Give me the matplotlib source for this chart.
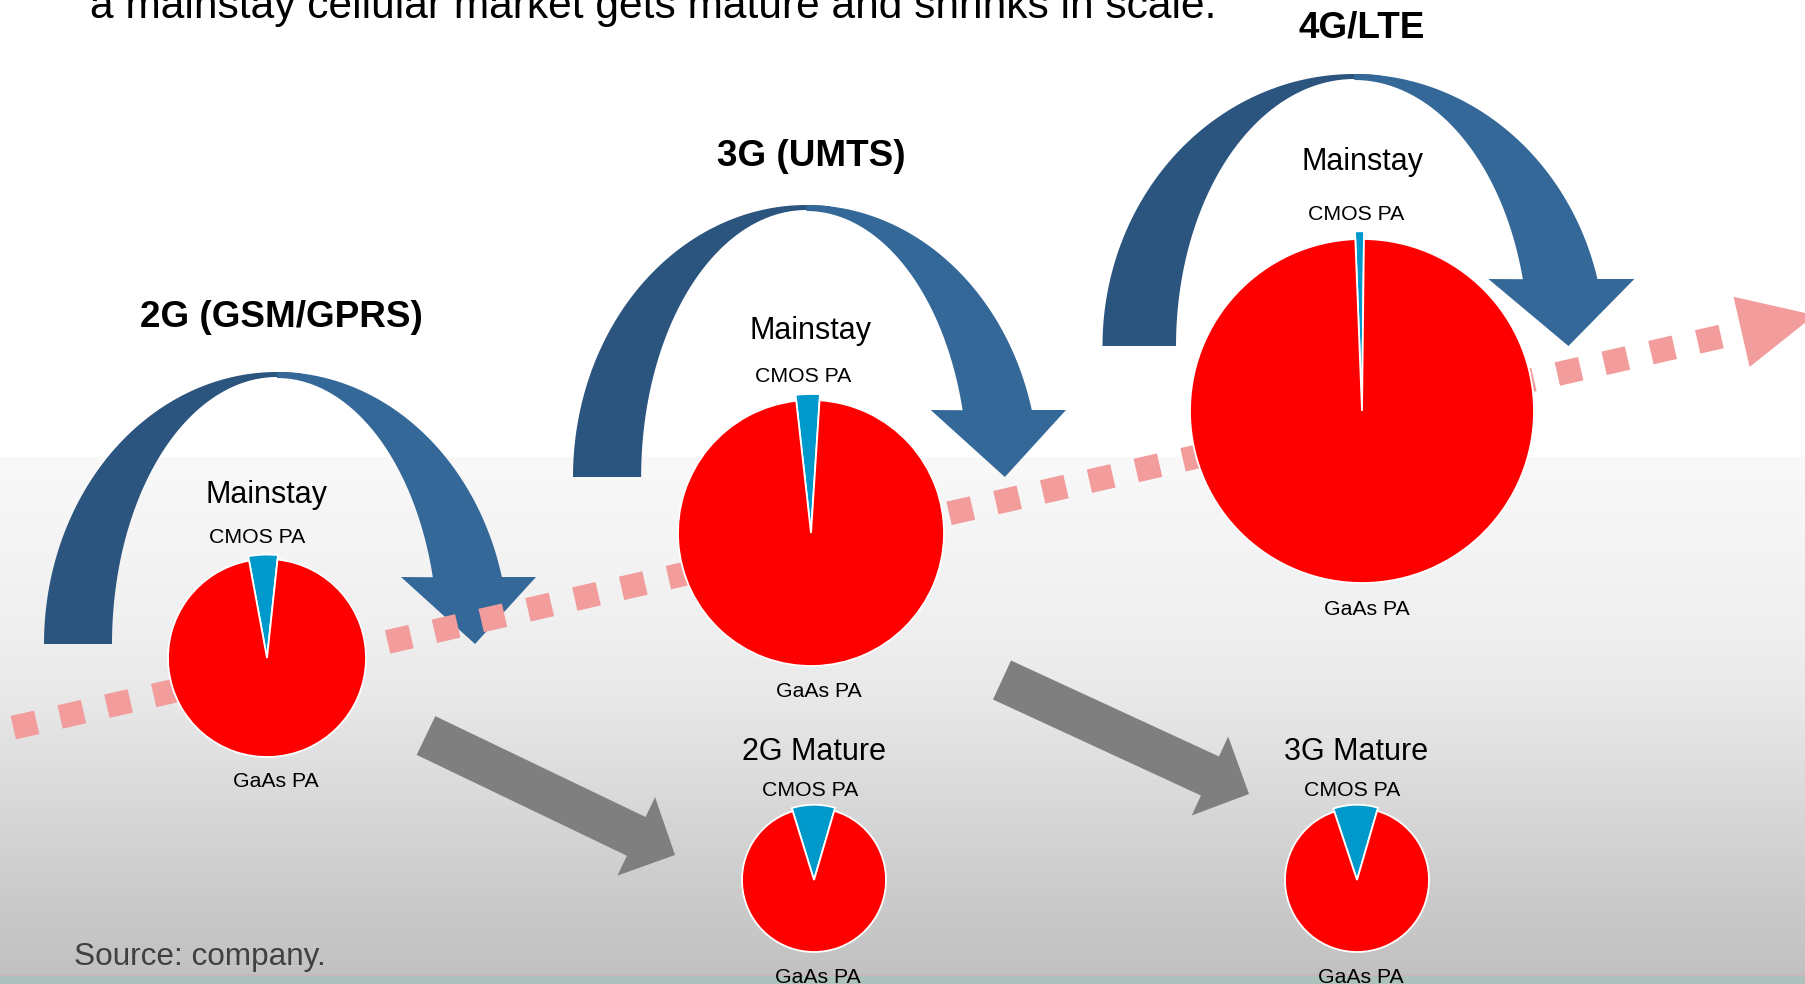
import numpy as np
import matplotlib
matplotlib.use("Agg")
import matplotlib.pyplot as plt
from matplotlib.patches import Polygon, Rectangle
from matplotlib.transforms import Affine2D

plt.rcParams['font.family'] = ['Liberation Sans', 'DejaVu Sans']

# ---------------- data ----------------
headline = "a mainstay cellular market gets mature and shrinks in scale."
generations = ["2G (GSM/GPRS)", "3G (UMTS)", "4G/LTE"]
segments = ["CMOS PA", "GaAs PA"]
pie_groups = ["Mainstay", "Mainstay", "Mainstay", "2G Mature", "3G Mature"]
cmos_share = [4.6, 2.8, 0.8, 9.3, 9.6]
gaas_share = [95.4, 97.2, 99.2, 90.7, 90.4]
source_note = "Source: company."

# ---------------- canvas ----------------
W, H = 1805, 984
fig = plt.figure(figsize=(W / 100, H / 100), dpi=100)
ax = fig.add_axes([0, 0, 1, 1])
ax.axis('off')

# background gradient
ys = np.arange(H)
vals = np.interp(ys, [0, 456, 457, 620, 700, 880, 975],
                 [255, 255, 249, 240, 232, 205, 193]) / 255.0
img = np.repeat(vals[:, None], 2, axis=1)
ax.imshow(np.dstack([img] * 3), extent=(0, W, H, 0), aspect='auto',
          zorder=0, interpolation='bilinear')
ax.add_patch(Rectangle((0, 973.5), W, 2.5, fc='#c9b5bd', ec='none', zorder=1))
ax.add_patch(Rectangle((0, 976), W, 9, fc='#adc2bc', ec='none', zorder=1))
ax.set_xlim(0, W)
ax.set_ylim(H, 0)

DARK = '#2b547e'
LIGHT = '#346899'


def curved_arrow(L, T, sx):
    B = T + 272

    def X(r):
        return L + r * sx

    th = np.linspace(np.pi, np.deg2rad(84), 80)
    outer = [(X(233 + 233 * np.cos(t)), B - 272 * np.sin(t)) for t in th]
    inner = [(X(233 + 165 * np.cos(t)), B - 267 * np.sin(t)) for t in th[::-1]]
    ax.add_patch(Polygon(outer + inner, closed=True, fc=DARK, ec='none', zorder=2))

    t_o = np.linspace(np.pi / 2, np.arcsin(67 / 272), 80)
    outer = [(X(233 + 232 * np.cos(t)), B - 272 * np.sin(t)) for t in t_o]
    head = [(X(492), T + 205), (X(431), B), (X(357), T + 205)]
    t_i = np.linspace(np.arcsin(67 / 267), np.pi / 2, 80)
    inner = [(X(233 + 161 * np.cos(t)), B - 266 * np.sin(t)) for t in t_i]
    ax.add_patch(Polygon(outer + head + inner, closed=True, fc=LIGHT, ec='none', zorder=2))


curved_arrow(44, 372, 1.0)
curved_arrow(573, 205, 1.002)
curved_arrow(1102.5, 74, 1.081)


def straight_arrow(tail, tip, shaft_w=43, head_w=87, head_l=43):
    tail = np.array(tail, float)
    tip = np.array(tip, float)
    d = tip - tail
    u = d / np.hypot(*d)
    n = np.array([-u[1], u[0]])
    hb = tip - u * head_l
    pts = [tail + n * shaft_w / 2, hb + n * shaft_w / 2, hb + n * head_w / 2, tip,
           hb - n * head_w / 2, hb - n * shaft_w / 2, tail - n * shaft_w / 2]
    ax.add_patch(Polygon(pts, closed=True, fc='#7f7f7f', ec='none', zorder=2))


straight_arrow((426, 735.5), (675, 855))
straight_arrow((1002, 680), (1249, 794))

# dotted red trend arrow
DOT = '#f29c9c'
p0 = np.array([25.0, 725.0])
ang = -12.9
u = np.array([np.cos(np.deg2rad(ang)), np.sin(np.deg2rad(ang))])
nrm = np.array([-u[1], u[0]])
for k in range(37):
    c = p0 + u * 48.0 * k
    rect = Rectangle((c[0] - 12, c[1] - 12), 24, 24, fc=DOT, ec='none', zorder=3)
    rect.set_transform(Affine2D().rotate_deg_around(c[0], c[1], ang) + ax.transData)
    ax.add_patch(rect)
bm = p0 + u * 1761
tri = [bm + nrm * 36, bm + u * 75, bm - nrm * 36]
ax.add_patch(Polygon(tri, closed=True, fc=DOT, ec='none', zorder=3))

# ---------------- pies ----------------
pie_layout = [(267, 658, 99, 83.9), (811, 533, 133, 86.3), (1362, 411, 172, 89.35),
              (814, 880, 72, 73.7), (1357, 880, 72, 73.8)]
for i, (cx, cy, r, sa) in enumerate(pie_layout):
    R = r * 1.06
    pax = fig.add_axes([(cx - R) / W, 1 - (cy + R) / H, 2 * R / W, 2 * R / H])
    wedges, _ = pax.pie([cmos_share[i], gaas_share[i]], colors=['#0099cc', '#ff0000'],
                        startangle=sa, counterclock=True,
                        wedgeprops=dict(edgecolor='white', linewidth=1.3))
    wedges[0].set_radius(1.045)
    pax.set_xlim(-1.06, 1.06)
    pax.set_ylim(-1.06, 1.06)
    pax.set_aspect('equal')
    pax.axis('off')

# ---------------- text ----------------
ax.text(90, 18, headline, fontsize=30.6, ha='left', va='baseline', color='black', zorder=5)

title_pos = [(281, 327), (811, 166), (1362, 38)]
for t, (x, y) in zip(generations, title_pos):
    ax.text(x, y, t, fontsize=26.6, fontweight='bold', ha='center', va='baseline', zorder=5)

group_pos = [(267, 503), (810, 339), (1362, 170), (814, 760), (1356, 760)]
cmos_pos = [(257.5, 543), (803.5, 382), (1356, 220), (810.5, 796), (1352.5, 796)]
gaas_pos = [(276, 787), (819, 697), (1367, 615), (818, 983), (1360.5, 983)]
for i in range(5):
    ax.text(*group_pos[i], pie_groups[i], fontsize=22, ha='center', va='baseline', zorder=5)
    ax.text(*cmos_pos[i], segments[0], fontsize=15.3, ha='center', va='baseline', zorder=5)
    ax.text(*gaas_pos[i], segments[1], fontsize=15.3, ha='center', va='baseline', zorder=5)

ax.text(74, 965, source_note, fontsize=22.7, color='#404040', ha='left', va='baseline', zorder=5)

fig.savefig('out.png', dpi=100)
